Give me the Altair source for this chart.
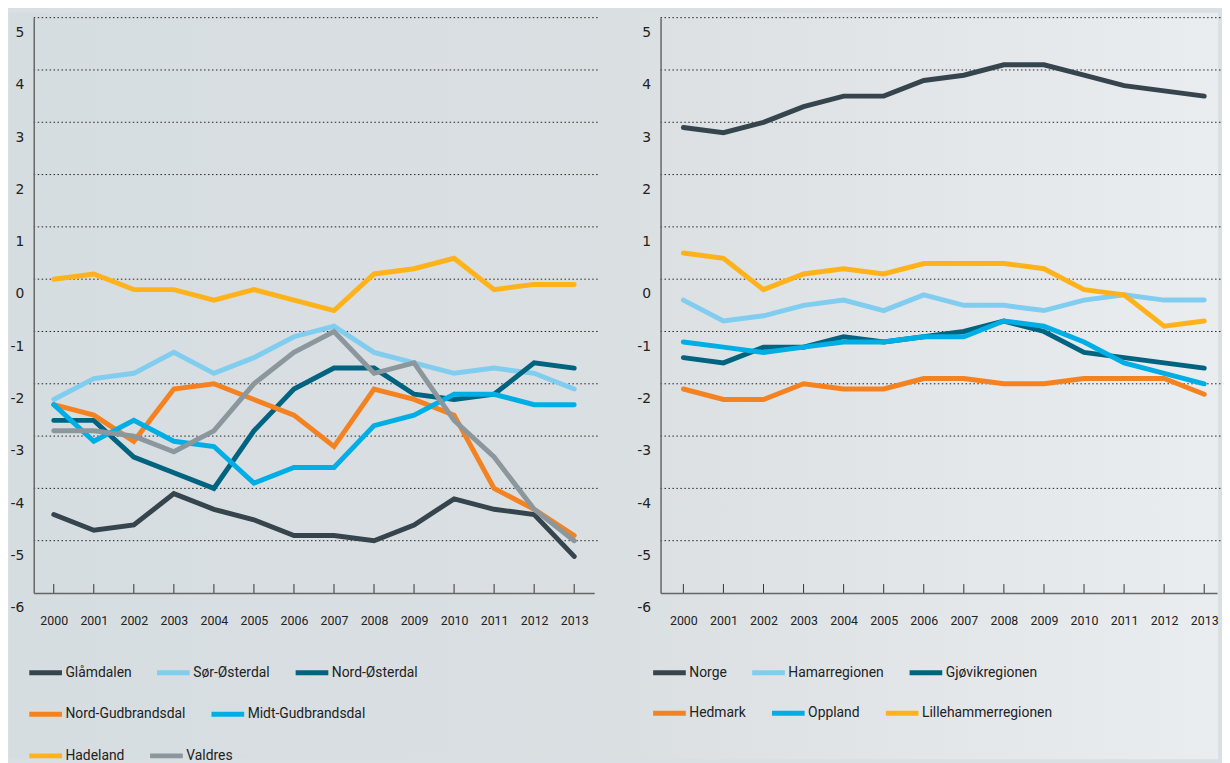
import altair as alt
import pandas as pd

years = list(range(2000, 2014))

# Left panel series
left_names = ["Glåmdalen", "Sør-Østerdal", "Nord-Østerdal",
              "Nord-Gudbrandsdal", "Midt-Gudbrandsdal", "Hadeland", "Valdres"]
glamdalen = [-4.5, -4.8, -4.7, -4.1, -4.4, -4.6, -4.9, -4.9, -5.0, -4.7, -4.2, -4.4, -4.5, -5.3]
sor_osterdal = [-2.3, -1.9, -1.8, -1.4, -1.8, -1.5, -1.1, -0.9, -1.4, -1.6, -1.8, -1.7, -1.8, -2.1]
nord_osterdal = [-2.7, -2.7, -3.4, -3.7, -4.0, -2.9, -2.1, -1.7, -1.7, -2.2, -2.3, -2.2, -1.6, -1.7]
nord_gudbrandsdal = [-2.4, -2.6, -3.1, -2.1, -2.0, -2.3, -2.6, -3.2, -2.1, -2.3, -2.6, -4.0, -4.4, -4.9]
midt_gudbrandsdal = [-2.4, -3.1, -2.7, -3.1, -3.2, -3.9, -3.6, -3.6, -2.8, -2.6, -2.2, -2.2, -2.4, -2.4]
hadeland = [0.0, 0.1, -0.2, -0.2, -0.4, -0.2, -0.4, -0.6, 0.1, 0.2, 0.4, -0.2, -0.1, -0.1]
valdres = [-2.9, -2.9, -3.0, -3.3, -2.9, -2.0, -1.4, -1.0, -1.8, -1.6, -2.7, -3.4, -4.4, -5.0]
left_series = [glamdalen, sor_osterdal, nord_osterdal, nord_gudbrandsdal,
               midt_gudbrandsdal, hadeland, valdres]
left_colors = ["#36454d", "#81cdf0", "#00637f", "#f58220", "#00aee6", "#ffb21a", "#8c979d"]
left_rows = [3, 2, 2]          # legend items per row

# Right panel series
right_names = ["Norge", "Hamarregionen", "Gjøvikregionen",
               "Hedmark", "Oppland", "Lillehammerregionen"]
norge = [2.9, 2.8, 3.0, 3.3, 3.5, 3.5, 3.8, 3.9, 4.1, 4.1, 3.9, 3.7, 3.6, 3.5]
hamar = [-0.4, -0.8, -0.7, -0.5, -0.4, -0.6, -0.3, -0.5, -0.5, -0.6, -0.4, -0.3, -0.4, -0.4]
gjovik = [-1.5, -1.6, -1.3, -1.3, -1.1, -1.2, -1.1, -1.0, -0.8, -1.0, -1.4, -1.5, -1.6, -1.7]
hedmark = [-2.1, -2.3, -2.3, -2.0, -2.1, -2.1, -1.9, -1.9, -2.0, -2.0, -1.9, -1.9, -1.9, -2.2]
oppland = [-1.2, -1.3, -1.4, -1.3, -1.2, -1.2, -1.1, -1.1, -0.8, -0.9, -1.2, -1.6, -1.8, -2.0]
lillehammer = [0.5, 0.4, -0.2, 0.1, 0.2, 0.1, 0.3, 0.3, 0.3, 0.2, -0.2, -0.3, -0.9, -0.8]
right_series = [norge, hamar, gjovik, hedmark, oppland, lillehammer]
right_colors = ["#36454d", "#81cdf0", "#00637f", "#f58220", "#00aee6", "#ffb21a"]
right_rows = [3, 3]

grid_values = [5, 4, 3, 2, 1, 0, -1, -2, -3, -4, -5]
tick_values = list(range(-6, 6))

H = 581


def long_df(names, series):
    rows = []
    for n, s in zip(names, series):
        for yr, v in zip(years, s):
            rows.append({"year": yr, "series": n, "value": v})
    return pd.DataFrame(rows)


def panel(names, series, colors, rows, W, pad, align, lx, ly_list, with_bg):
    xsc = alt.Scale(type="point", padding=pad, align=align)
    ysc = alt.Scale(domain=[-6, 5], nice=False, zero=False)
    x = alt.X("year:O", title=None, scale=xsc,
              axis=alt.Axis(labelAngle=0, zindex=2, labelFont="Roboto",
                            labelFontSize=12.5, labelColor="#222",
                            ticks=False, tickSize=0, labelPadding=22,
                            domainColor="#666", domainWidth=1.5))
    y = alt.Y("value:Q", title=None, scale=ysc,
              axis=alt.Axis(values=tick_values, zindex=2, labelExpr="'' + datum.value",
                            labelFont="DejaVu Sans", labelFontSize=14,
                            labelColor="#222", ticks=False, tickSize=0,
                            labelPadding=10, labelOffset=15,
                            domainColor="#666", domainWidth=1.5))

    grid = alt.Chart(pd.DataFrame({"value": grid_values})).mark_rule(
        color="#222", strokeDash=[1.5, 2.5], strokeWidth=1
    ).encode(y=y, x=alt.value(0), x2=alt.value(W + 4))

    ticks = alt.Chart(pd.DataFrame({"year": years})).mark_rule(
        color="#333", strokeWidth=1
    ).encode(x=x, y=alt.value(H - 9), y2=alt.value(H))

    line_layers = []
    start = 0
    for count, ly in zip(rows, ly_list):
        sub_names = names[start:start + count]
        sub_series = series[start:start + count]
        sub_colors = colors[start:start + count]
        start += count
        df = long_df(sub_names, sub_series)
        line_layers.append(
            alt.Chart(df).mark_line(strokeWidth=5, strokeCap="round").encode(
                x=x, y=y,
                color=alt.Color(
                    "series:N",
                    scale=alt.Scale(domain=sub_names, range=sub_colors),
                    legend=alt.Legend(
                        title=None, orient="none", legendX=lx, legendY=ly,
                        direction="horizontal", symbolType="stroke",
                        symbolSize=1089, symbolStrokeWidth=5,
                        labelFont="Roboto", labelFontSize=14, labelColor="#222",
                        columnPadding=15, labelOffset=1, padding=0,
                    ),
                ),
            )
        )
    layers = [grid, ticks] + line_layers
    if with_bg:
        grad = alt.LinearGradient(
            gradient="linear",
            stops=[alt.GradientStop(color="#d6dde0", offset=0),
                   alt.GradientStop(color="#dadfe2", offset=0.5),
                   alt.GradientStop(color="#eaedf0", offset=1)],
            x1=0, x2=1, y1=0, y2=0,
        )
        bg = alt.Chart(pd.DataFrame({"a": [0]})).mark_rect(fill=grad).encode(
            x=alt.value(-25), x2=alt.value(1196), y=alt.value(-5), y2=alt.value(749)
        )
        layers = [bg] + layers
    return alt.layer(*layers).resolve_scale(color="independent").resolve_legend(
        color="independent"
    ).properties(width=W, height=H)


left = panel(left_names, left_series, left_colors, left_rows, 566, 0.5, 0.5, -7,
             [642.5, 684.5, 726.5], True)
right = panel(right_names, right_series, right_colors, right_rows, 562, 0.445, 0.64, -10,
              [642.5, 683.5], False)

chart = alt.hconcat(left, right, spacing=67, bounds="flush").resolve_scale(
    color="independent"
).properties(padding=0, background="#d9dfe2").configure_view(
    stroke="transparent"
).configure_axis(grid=False)

chart.save("out.html", embed_options={"renderer": "svg", "actions": False})
